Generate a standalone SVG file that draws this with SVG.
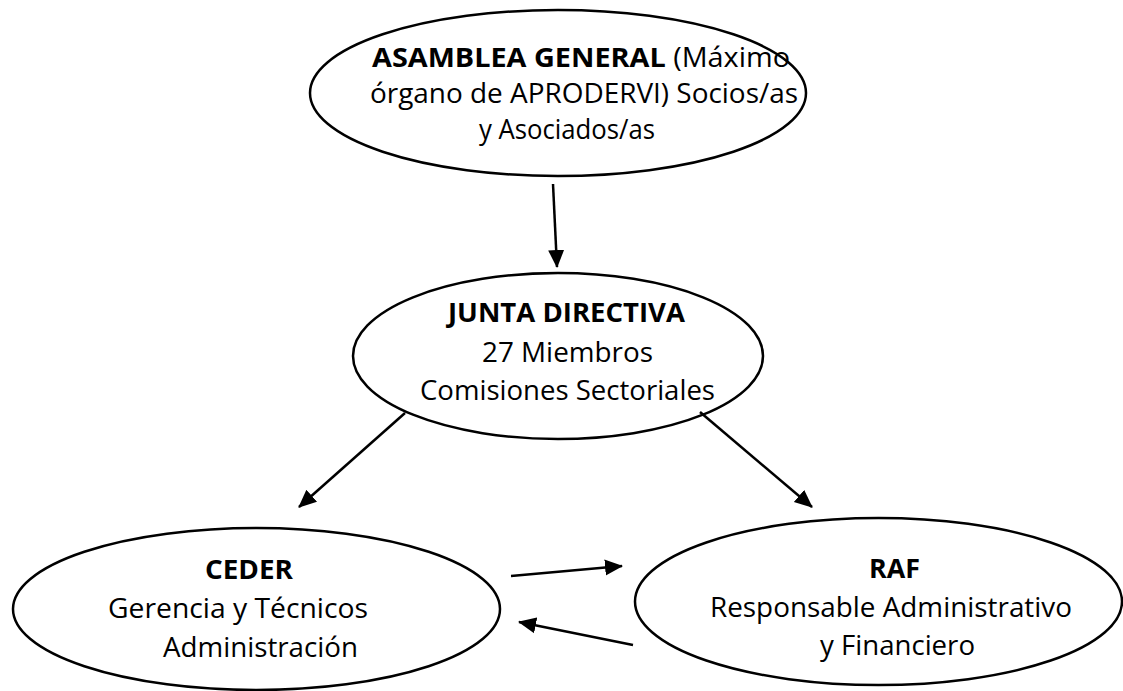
<svg xmlns="http://www.w3.org/2000/svg" width="1123" height="691" viewBox="0 0 1123 691">
<style>
.node ellipse{fill:#ffffff;stroke:#000000;stroke-width:2.5}
.t{font-family:"Open Sans","Liberation Sans",sans-serif;font-size:27px;fill:#000000}
.b{font-weight:bold}
.conn line{stroke:#000000;stroke-width:2.5}
</style>
<defs>
<marker id="ah" markerUnits="userSpaceOnUse" markerWidth="18" markerHeight="18" viewBox="0 0 18 18" refX="17" refY="9" orient="auto">
<path d="M0,1 L18,9 L0,17 z" fill="#000000"/>
</marker>
</defs>
<rect width="1123" height="691" fill="#ffffff"/>
<g id="asamblea" class="node">
<ellipse cx="558" cy="93" rx="248" ry="83"/>
<text class="t" x="372" y="67" textLength="418" lengthAdjust="spacingAndGlyphs"><tspan class="b">ASAMBLEA GENERAL</tspan> (Máximo</text>
<text class="t" x="370" y="103" textLength="428" lengthAdjust="spacingAndGlyphs">órgano de APRODERVI) Socios/as</text>
<text class="t" x="479" y="139" textLength="176" lengthAdjust="spacingAndGlyphs">y Asociados/as</text>
</g>
<g id="junta" class="node">
<ellipse cx="558" cy="356" rx="205" ry="83"/>
<text class="t b" x="448" y="322" textLength="237" lengthAdjust="spacingAndGlyphs">JUNTA DIRECTIVA</text>
<text class="t" x="482" y="362" textLength="171" lengthAdjust="spacingAndGlyphs">27 Miembros</text>
<text class="t" x="420" y="400" textLength="295" lengthAdjust="spacingAndGlyphs">Comisiones Sectoriales</text>
</g>
<g id="ceder" class="node">
<ellipse cx="256.5" cy="609" rx="243.5" ry="81"/>
<text class="t b" x="205" y="579" textLength="88" lengthAdjust="spacingAndGlyphs">CEDER</text>
<text class="t" x="108" y="618" textLength="260" lengthAdjust="spacingAndGlyphs">Gerencia y Técnicos</text>
<text class="t" x="163" y="657" textLength="195" lengthAdjust="spacingAndGlyphs">Administración</text>
</g>
<g id="raf" class="node">
<ellipse cx="878.5" cy="601.5" rx="243.5" ry="83.5"/>
<text class="t b" x="869" y="578" textLength="51" lengthAdjust="spacingAndGlyphs">RAF</text>
<text class="t" x="710" y="617" textLength="362" lengthAdjust="spacingAndGlyphs">Responsable Administrativo</text>
<text class="t" x="820" y="655" textLength="155" lengthAdjust="spacingAndGlyphs">y Financiero</text>
</g>
<g id="connectors" class="conn">
<line x1="553" y1="184" x2="557" y2="267" marker-end="url(#ah)"/>
<line x1="405" y1="413" x2="299" y2="507" marker-end="url(#ah)"/>
<line x1="700" y1="412" x2="812" y2="507" marker-end="url(#ah)"/>
<line x1="511" y1="576" x2="622" y2="566" marker-end="url(#ah)"/>
<line x1="633" y1="645" x2="519" y2="622" marker-end="url(#ah)"/>
</g>
</svg>
